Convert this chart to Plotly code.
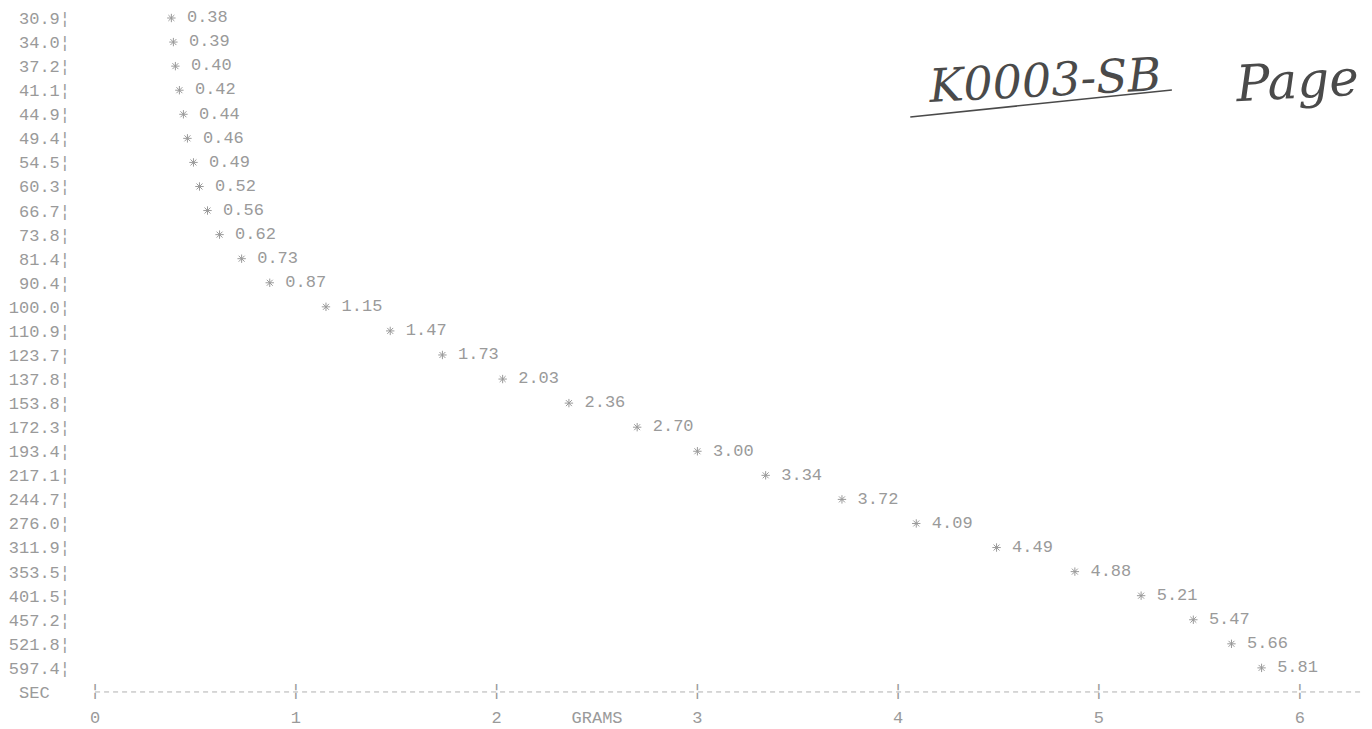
import plotly.graph_objects as go

# ---- data ----
times = [30.9, 34.0, 37.2, 41.1, 44.9, 49.4, 54.5, 60.3, 66.7, 73.8, 81.4, 90.4,
         100.0, 110.9, 123.7, 137.8, 153.8, 172.3, 193.4, 217.1, 244.7, 276.0,
         311.9, 353.5, 401.5, 457.2, 521.8, 597.4]
grams = [0.38, 0.39, 0.40, 0.42, 0.44, 0.46, 0.49, 0.52, 0.56, 0.62, 0.73, 0.87,
         1.15, 1.47, 1.73, 2.03, 2.36, 2.70, 3.00, 3.34, 3.72, 4.09, 4.49, 4.88,
         5.21, 5.47, 5.66, 5.81]
x_ticks = [0, 1, 2, 3, 4, 5, 6]
x_title = "GRAMS"
y_title = "SEC"
note_id = "K0003-SB"
note_page = "Page"

MONO = "Liberation Mono, DejaVu Sans Mono, monospace"
INK = "#9a9a9a"
PEN = "#4a4a4a"
NB = "\u00a0"

cats = [f"{t:.1f}" for t in times]
all_cats = cats + [y_title]

fig = go.Figure()

# axis baseline (dashed) on the SEC row
fig.add_trace(go.Scatter(
    x=[x_ticks[0], x_ticks[-1] + 0.5], y=[y_title, y_title], mode="lines",
    line=dict(color="#b0b0b0", width=1, dash="5px,4px"),
    hoverinfo="skip", showlegend=False))

# tick separators on the baseline
fig.add_trace(go.Scatter(
    x=x_ticks, y=[y_title] * len(x_ticks), mode="text", text=["¦"] * len(x_ticks),
    textposition="middle center", textfont=dict(family=MONO, size=17, color=INK),
    cliponaxis=False, hoverinfo="skip", showlegend=False))

# data points: star + value
fig.add_trace(go.Scatter(
    x=grams, y=cats, mode="markers+text",
    marker=dict(symbol="asterisk-open", size=7, color=INK, line=dict(width=1, color=INK)),
    text=[NB + f"{g:.2f}" for g in grams], textposition="middle right",
    textfont=dict(family=MONO, size=17, color=INK),
    cliponaxis=False, showlegend=False))

fig.update_layout(
    width=1364, height=721,
    margin=dict(l=67, r=2, t=0, b=29, autoexpand=False),
    paper_bgcolor="white", plot_bgcolor="white",
    showlegend=False,
    xaxis=dict(
        range=[-0.1, 6.35], automargin=False,
        tickvals=x_ticks + [2.5],
        ticktext=[str(v) for v in x_ticks] + [x_title],
        ticks="outside", ticklen=2, tickcolor="rgba(0,0,0,0)",
        tickfont=dict(family=MONO, size=17, color=INK),
        showgrid=False, zeroline=False, showline=False),
    yaxis=dict(
        type="category", categoryorder="array", categoryarray=all_cats,
        range=[28.334, -0.4155], automargin=False,
        tickvals=all_cats,
        ticktext=[c + "¦" for c in cats] + [y_title + NB + NB],
        ticks="", ticklabelstandoff=4,
        tickfont=dict(family=MONO, size=17, color=INK),
        showgrid=False, zeroline=False, showline=False),
    annotations=[
        dict(xref="paper", yref="paper", x=0.749, y=0.896, xanchor="center", yanchor="middle",
             text=note_id, showarrow=False, textangle=-3,
             font=dict(family="DejaVu Serif", size=46, color=PEN, style="italic")),
        dict(xref="paper", yref="paper", x=0.944, y=0.895, xanchor="center", yanchor="middle",
             text=note_page, showarrow=False, textangle=-3,
             font=dict(family="DejaVu Serif", size=50, color=PEN, style="italic")),
    ],
    shapes=[
        dict(type="line", xref="paper", yref="paper", x0=0.645, y0=0.8425, x1=0.847, y1=0.8815,
             line=dict(color=PEN, width=1.5)),
    ],
)

fig.write_html("out.html")
